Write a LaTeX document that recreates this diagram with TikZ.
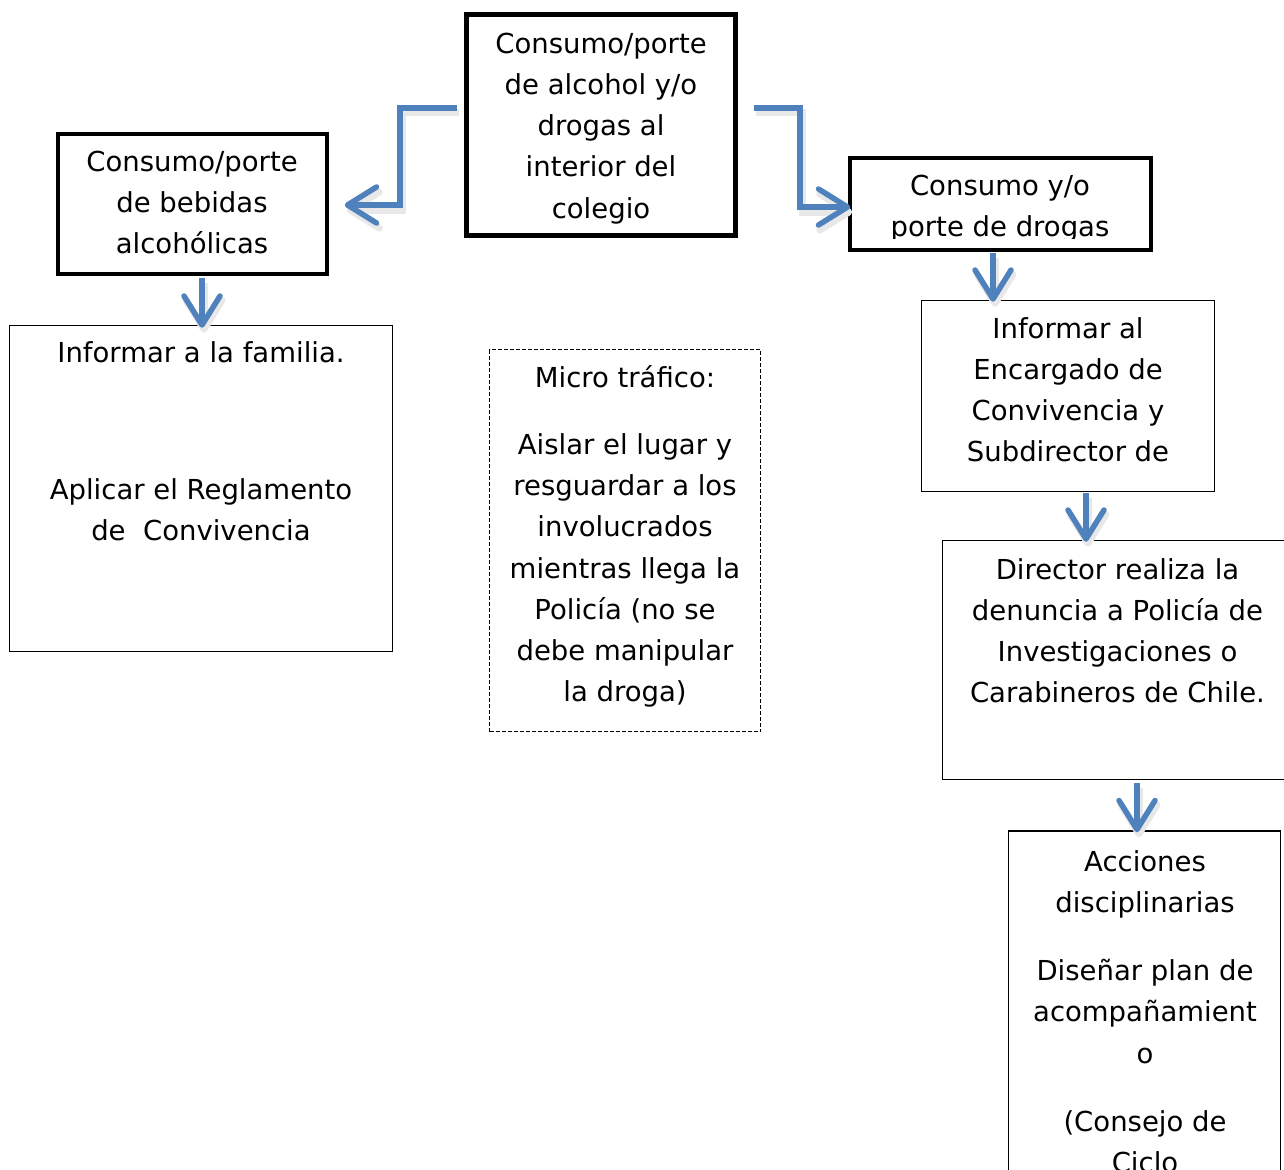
\documentclass[tikz,border=0pt]{standalone}
\usepackage{fontspec}
\setmainfont{DejaVu Sans}
\usetikzlibrary{arrows.meta,calc}
\definecolor{arrblue}{RGB}{79,129,189}
\begin{document}
\begin{tikzpicture}[x=1pt,y=-1pt,
  boxthick/.style={draw=black,line width=5pt,inner sep=0pt,rectangle},
  boxmid/.style={draw=black,line width=3.5pt,inner sep=0pt,rectangle},
  boxthin/.style={draw=black,line width=1.5pt,inner sep=0pt,rectangle},
  boxdash/.style={draw=black,line width=1.5pt,dash pattern=on 4pt off 2pt,inner sep=0pt,rectangle},
  txt/.style={inner sep=0pt,anchor=north,align=center,font=\fontsize{27.5}{41.2}\selectfont},
  arr/.style={draw=arrblue,line width=5.5pt,-{Straight Barb[length=29pt,width=36pt,line cap=round,line join=round]}},
  shd/.style={arr,draw=black!9,line width=7pt,transform canvas={xshift=2pt,yshift=-5pt}}
]
\useasboundingbox (0,0) rectangle (1284,1169);
\clip (0,0) rectangle (1284,1169);
\fill[white] (0,0) rectangle (1284,1169);

% boxes
\node[boxthick,minimum width=269pt,minimum height=221pt] (top) at (601,125) {};
\node[boxmid,minimum width=269pt,minimum height=140pt] (left) at (192.5,204) {};
\node[boxmid,minimum width=301pt,minimum height=92pt] (right) at (1000.5,204) {};
\node[boxthin,minimum width=383pt,minimum height=326pt] (fam) at (201,488.5) {};
\node[boxdash,minimum width=271pt,minimum height=382pt] (micro) at (625,540.5) {};
\node[boxthin,minimum width=293pt,minimum height=191pt] (inf) at (1068,396) {};
\node[boxthin,minimum width=351pt,minimum height=239pt] (dir) at (1118,660) {};
\node[boxthin,minimum width=272pt,minimum height=418pt] (acc) at (1144.5,1040) {};

% texts
\node[txt] (ttop) at (601,24.3) {\strut Consumo/porte\\de alcohol y/o\\drogas al\\interior del\\colegio};
\node[txt] (tleft) at (192,142.3) {\strut Consumo/porte\\de bebidas\\alcohólicas};
\begin{scope}
\clip (850,158) rectangle (1151,238);
\node[txt] (tright) at (1000,166.3) {\strut Consumo y/o\\porte de drogas};
\end{scope}
\node[txt] (tfam) at (201,333.3) {\strut Informar a la familia.\\[96pt]Aplicar el Reglamento\\de\ \ Convivencia};
\node[txt] (tmicro) at (625,358.3) {\strut Micro tráfico:\\[26pt]Aislar el lugar y\\resguardar a los\\involucrados\\mientras llega la\\Policía (no se\\debe manipular\\la droga)};
\node[txt] (tinf) at (1068,309.3) {\strut Informar al\\Encargado de\\Convivencia y\\Subdirector de};
\node[txt] (tdir) at (1117.5,550.3) {\strut Director realiza la\\denuncia a Policía de\\Investigaciones o\\Carabineros de Chile.};
\node[txt] (tacc) at (1145,842.3) {\strut Acciones\\disciplinarias\\[27pt]Diseñar plan de\\acompañamient\\o\\[27pt](Consejo de\\Ciclo};

% connector coordinates
\coordinate (sL) at ($(top.west)+(-7,-17)$);
\coordinate (sR) at ($(top.east)+(16,-17)$);
\coordinate (eL) at ($(left.east)+(16,1)$);
\coordinate (eR) at ($(right.west)+(2,3)$);
\coordinate (d1) at (202,278);
\coordinate (d2) at (993,253);
\coordinate (d3) at (1086,493);
\coordinate (d4) at (1137,783);

% shadows
\draw[shd] (sL) -- (400,108) |- (eL);
\draw[shd] (sR) -- (800,108) |- (eR);
\draw[shd] (d1) -- ($(d1 |- fam.north)+(0,3)$);
\draw[shd] (d2) -- ($(d2 |- inf.north)+(0,2)$);
\draw[shd] (d3) -- ($(d3 |- dir.north)+(0,2)$);
\draw[shd] (d4) -- ($(d4 |- acc.north)+(0,2)$);

% connectors
\draw[arr] (sL) -- (400,108) |- (eL);
\draw[arr] (sR) -- (800,108) |- (eR);
\draw[arr] (d1) -- ($(d1 |- fam.north)+(0,3)$);
\draw[arr] (d2) -- ($(d2 |- inf.north)+(0,2)$);
\draw[arr] (d3) -- ($(d3 |- dir.north)+(0,2)$);
\draw[arr] (d4) -- ($(d4 |- acc.north)+(0,2)$);
\end{tikzpicture}
\end{document}
